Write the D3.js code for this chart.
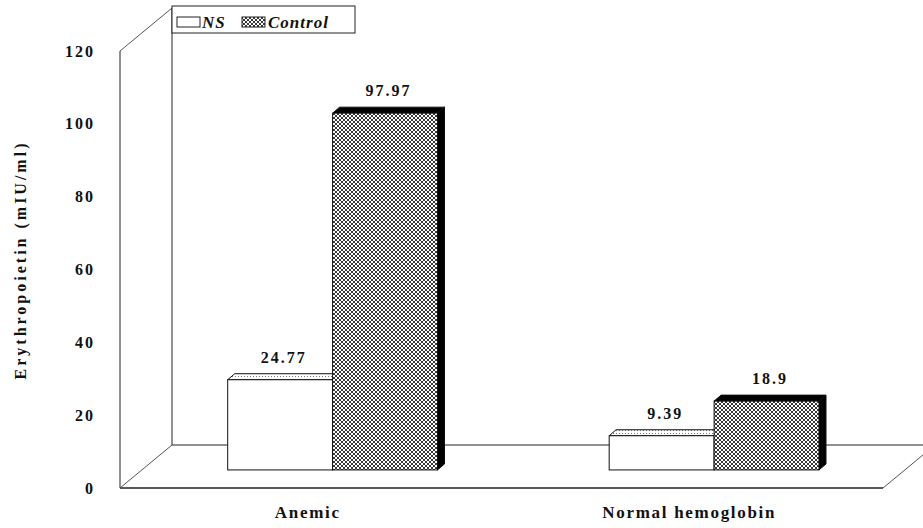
<!DOCTYPE html>
<html>
<head>
<meta charset="utf-8">
<script src="https://cdn.jsdelivr.net/npm/d3@7"></script>
<style>
  body { margin: 0; background: #fff; }
</style>
</head>
<body>
<div id="chart"></div>
<script>
var categories = ["Anemic", "Normal hemoglobin"];
var seriesNames = ["NS", "Control"];
var nsValues = [24.77, 9.39];
var controlValues = [97.97, 18.9];
var yTicks = [0, 20, 40, 60, 80, 100, 120];

var width = 923,
    height = 528;
var serif = "Liberation Serif";

var svg = d3.select("#chart")
    .append("svg")
    .attr("width", width)
    .attr("height", height)
    .style("font-family", serif)
    .style("font-weight", "bold");

// patterns
var defs = svg.append("defs");
var hatch = defs.append("pattern")
    .attr("id", "hatch")
    .attr("patternUnits", "userSpaceOnUse")
    .attr("width", 4).attr("height", 4);
hatch.append("rect").attr("width", 4).attr("height", 4).attr("fill", "#fff");
hatch.append("path")
    .attr("d", "M-1,-1L5,5M-1,3L1,5M3,-1L5,1M5,-1L-1,5M1,-1L-1,1M5,3L3,5")
    .attr("stroke", "#222").attr("stroke-width", 0.9);

var dots = defs.append("pattern")
    .attr("id", "dots")
    .attr("patternUnits", "userSpaceOnUse")
    .attr("width", 3).attr("height", 3);
dots.append("rect").attr("width", 3).attr("height", 3).attr("fill", "#fff");
dots.append("rect").attr("x", 1).attr("y", 1).attr("width", 1).attr("height", 1).attr("fill", "#777");

// front plane scales
var x = d3.scaleBand()
    .domain(categories)
    .range([120, 883])
    .paddingInner(0.45)
    .paddingOuter(0.225);

var xInner = d3.scaleBand()
    .domain(seriesNames)
    .range([0, x.bandwidth()]);

var y = d3.scaleLinear()
    .domain([0, 120])
    .range([488, 51]);

// oblique depth of the floor/walls
var depth = { x: 52, y: -43 };
var barPos = 0.42; // bars sit partway back
var shift = { x: depth.x * barPos, y: depth.y * barPos };
var barDepth = { x: 7, y: -6 };

var frame = svg.append("g")
    .attr("fill", "none")
    .attr("stroke", "#222")
    .attr("stroke-width", 1);

var x0 = x.range()[0], x1 = x.range()[1];
var yb = y(0), yt = y(120);

// back wall and back floor edge
frame.append("line").attr("x1", x0 + depth.x).attr("y1", yb + depth.y).attr("x2", x0 + depth.x).attr("y2", yt + depth.y);
frame.append("line").attr("x1", x0 + depth.x).attr("y1", yb + depth.y).attr("x2", x1 + depth.x).attr("y2", yb + depth.y);
// front edges
frame.append("line").attr("x1", x0).attr("y1", yb).attr("x2", x0).attr("y2", yt);
frame.append("line").attr("x1", x0).attr("y1", yb).attr("x2", x1).attr("y2", yb).attr("stroke-width", 1.3);
// diagonals
frame.append("line").attr("x1", x0).attr("y1", yb).attr("x2", x0 + depth.x).attr("y2", yb + depth.y).attr("stroke", "#555");
frame.append("line").attr("x1", x1).attr("y1", yb).attr("x2", x1 + depth.x).attr("y2", yb + depth.y).attr("stroke", "#555");
frame.append("line").attr("x1", x0).attr("y1", yt).attr("x2", x0 + depth.x).attr("y2", yt + depth.y).attr("stroke", "#555");

function label(sel) {
    return sel.attr("fill", "#111").attr("font-family", serif).attr("font-weight", "bold");
}

// y tick labels
svg.append("g")
    .selectAll("text")
    .data(yTicks)
    .enter()
    .append("text")
    .call(label)
    .attr("x", 95)
    .attr("y", function (d) { return y(d); })
    .attr("dy", "0.35em")
    .attr("text-anchor", "end")
    .attr("font-size", 16)
    .attr("letter-spacing", 2)
    .text(function (d) { return d; });

// y axis title
svg.append("text")
    .call(label)
    .attr("transform", "translate(26,260) rotate(-90)")
    .attr("text-anchor", "middle")
    .attr("font-size", 16)
    .attr("letter-spacing", 3)
    .text("Erythropoietin (mIU/ml)");

// bars
var bars = [];
categories.forEach(function (c, i) {
    bars.push({ cat: c, s: "NS", v: nsValues[i] });
    bars.push({ cat: c, s: "Control", v: controlValues[i] });
});

var barG = svg.append("g");
bars.forEach(function (d) {
    var bx0 = x(d.cat) + xInner(d.s) + shift.x,
        bx1 = bx0 + xInner.bandwidth(),
        top = y(d.v) + shift.y,
        bottom = y(0) + shift.y;
    var g = barG.append("g").attr("stroke", "#111").attr("stroke-width", 1);
    g.append("polygon")
        .attr("points", [[bx1, top], [bx1 + barDepth.x, top + barDepth.y], [bx1 + barDepth.x, bottom + barDepth.y], [bx1, bottom]].join(" "))
        .attr("fill", d.s == "Control" ? "#000" : "#fff");
    g.append("polygon")
        .attr("points", [[bx0, top], [bx1, top], [bx1 + barDepth.x, top + barDepth.y], [bx0 + barDepth.x, top + barDepth.y]].join(" "))
        .attr("fill", d.s == "Control" ? "#000" : "url(#dots)");
    g.append("rect")
        .attr("x", bx0).attr("y", top)
        .attr("width", bx1 - bx0).attr("height", bottom - top)
        .attr("fill", d.s == "Control" ? "url(#hatch)" : "#fff");
    svg.append("text")
        .call(label)
        .attr("x", (bx0 + bx1) / 2 + barDepth.x / 2)
        .attr("y", top + barDepth.y - 11)
        .attr("text-anchor", "middle")
        .attr("font-size", 16)
        .attr("letter-spacing", 2)
        .text(d.v);
});

// category labels
svg.append("g")
    .selectAll("text")
    .data(categories)
    .enter()
    .append("text")
    .call(label)
    .attr("x", function (d) { return x(d) + x.bandwidth() / 2 - 3; })
    .attr("y", 518)
    .attr("text-anchor", "middle")
    .attr("font-size", 17)
    .attr("letter-spacing", 1.7)
    .text(function (d) { return d; });

// legend
var legend = svg.append("g");
legend.append("rect")
    .attr("x", x0 + depth.x).attr("y", 6)
    .attr("width", 183).attr("height", 27)
    .attr("fill", "#fff").attr("stroke", "#222");
var legendItems = [
    { name: seriesNames[0], fill: "#fff", sx: 177, tx: 202 },
    { name: seriesNames[1], fill: "url(#hatch)", sx: 242, tx: 268 }
];
legendItems.forEach(function (d) {
    legend.append("rect")
        .attr("x", d.sx).attr("y", 17)
        .attr("width", 23).attr("height", 10)
        .attr("fill", d.fill).attr("stroke", "#222");
    legend.append("text")
        .call(label)
        .attr("x", d.tx).attr("y", 28)
        .attr("font-size", 17)
        .attr("font-style", "italic")
        .attr("letter-spacing", 1)
        .text(d.name);
});
</script>
</body>
</html>
